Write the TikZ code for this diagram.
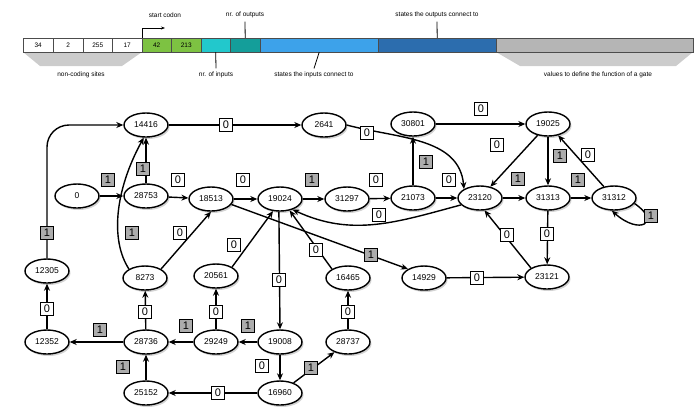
\documentclass[tikz,border=0pt]{standalone}
\usepackage{fontspec}
\setmainfont{Liberation Sans}
\usetikzlibrary{shadows,arrows.meta,shapes.geometric}
\definecolor{cg}{HTML}{7DC242}
\definecolor{cc}{HTML}{22C8CC}
\definecolor{ct}{HTML}{149E9A}
\definecolor{cb}{HTML}{3DA2EA}
\definecolor{cd}{HTML}{2C6DAE}
\definecolor{cgr}{HTML}{B5B5B5}
\begin{document}
\begin{tikzpicture}[x=1pt,y=-1pt,
 st/.style={ellipse,draw,line width=1.4pt,fill=white,minimum width=44pt,minimum height=24pt,inner sep=0pt,font=\fontsize{8.5}{9}\selectfont,drop shadow={opacity=0.35,shadow xshift=1.5pt,shadow yshift=-2pt}},
 e/.style={line width=1.4pt,-{Stealth[length=7pt,width=6pt]}},
 lz/.style={draw,fill=white,inner sep=1pt,minimum width=13pt,minimum height=13pt,font=\fontsize{11}{11}\selectfont},
 lo/.style={lz,fill=gray!65},
 cell/.style={draw=gray!60!black,line width=0.4pt,minimum height=14pt,inner sep=0pt,anchor=west,font=\fontsize{6.5}{7}\selectfont},
 lab/.style={font=\fontsize{6.5}{7}\selectfont}]
\useasboundingbox (0,0) rectangle (700,416);
% top bar
\fill[gray!40] (23,52) -- (142,52) -- (122,66) -- (40,66) -- cycle;
\fill[gray!40] (496,52) -- (693,52) -- (676,66) -- (520,66) -- cycle;
\node[cell,minimum width=30pt,fill=white] (c1) at (23,45) {34};
\node[cell,minimum width=30pt,fill=white] (c2) at (53,45) {2};
\node[cell,minimum width=29pt,fill=white] (c3) at (83,45) {255};
\node[cell,minimum width=30pt,fill=white] (c4) at (112,45) {17};
\node[cell,minimum width=29pt,fill=cg] (c5) at (142,45) {42};
\node[cell,minimum width=30pt,fill=cg] (c6) at (171,45) {213};
\node[cell,minimum width=29pt,fill=cc] (c7) at (201,45) {};
\node[cell,minimum width=30pt,fill=ct] (c8) at (230,45) {};
\node[cell,minimum width=118pt,fill=cb] (c9) at (260,45) {};
\node[cell,minimum width=118pt,fill=cd] (c10) at (378,45) {};
\node[cell,minimum width=197pt,fill=cgr] (c11) at (496,45) {};
\node[lab] (tsc) at (165,15) {start codon};
\node[lab] (tno) at (245,15) {nr. of outputs};
\node[lab] (tso) at (437,15) {states the outputs connect to};
\node[lab] (tnc) at (81,75) {non-coding sites};
\node[lab] (tni) at (216,75) {nr. of inputs};
\node[lab] (tsi) at (314,75) {states the inputs connect to};
\node[lab] (tvf) at (598,75) {values to define the function of a gate};
\coordinate (sca) at (165,28);
\draw[line width=0.8pt,-{Stealth[length=4pt]}] (c5.north west) |- (sca);
\draw[line width=0.8pt] (c8.north) -- (tno.south);
\draw[line width=0.8pt] (c10.north) -- (tso.south);
\draw[line width=0.8pt] (c7.south) -- (tni.north);
\draw[line width=0.8pt] (c9.south) -- (tsi.north);
% nodes
\node[st] (a14416) at (146,125) {14416};
\node[st] (a2641) at (324,125) {2641};
\node[st] (a30801) at (413,124) {30801};
\node[st] (a19025) at (548,124) {19025};
\node[st] (a0) at (77,196) {0};
\node[st] (a28753) at (146,196) {28753};
\node[st] (a18513) at (211,199) {18513};
\node[st] (a19024) at (280,199) {19024};
\node[st] (a31297) at (347,199) {31297};
\node[st] (a21073) at (413,198) {21073};
\node[st] (a23120) at (480,198) {23120};
\node[st] (a31313) at (548,198) {31313};
\node[st] (a31312) at (614,198) {31312};
\node[st] (a14929) at (424,278) {14929};
\node[st] (a23121) at (547,277) {23121};
\node[st] (a12305) at (47,271) {12305};
\node[st] (a8273) at (145,278) {8273};
\node[st] (a20561) at (216,276) {20561};
\node[st] (a16465) at (348,278) {16465};
\node[st] (a12352) at (47,342) {12352};
\node[st] (a28736) at (146,342) {28736};
\node[st] (a29249) at (216,342) {29249};
\node[st] (a19008) at (280,342) {19008};
\node[st] (a28737) at (348,342) {28737};
\node[st] (a25152) at (146,393) {25152};
\node[st] (a16960) at (280,393) {16960};
% edges
\draw[e,rounded corners=22pt] (a12305.north) |- (a14416.west);
\draw[e] (a14416) -- (a2641);
\draw[e] (a2641.east) to[out=-15,in=95] (a23120.north west);
\draw[e] (a30801) -- (a19025);
\draw[e] (a19025) -- (a23120);
\draw[e] (a19025) -- (a31313);
\draw[e] (a31312) -- (a19025);
\draw[e] (a0) -- (a28753);
\draw[e] (a28753) -- (a14416);
\draw[e] (a28753) -- (a18513);
\draw[e] (a18513) -- (a19024);
\draw[e] (a19024) -- (a31297);
\draw[e] (a31297) -- (a21073);
\draw[e] (a21073) -- (a30801);
\draw[e] (a21073) -- (a23120);
\draw[e] (a23120) -- (a31313);
\draw[e] (a31313) -- (a31312);
\draw[e] (a31312.-15) .. controls (662,222) and (640,236) .. (a31312.-100);
\draw[e] (a23120.200) to[out=195,in=-25] (a19024.-40);
\draw[e] (a18513.-15) -- (a14929.north west);
\draw[e] (a8273.north west) .. controls (110,240) and (115,190) .. (a14416.-100);
\draw[e] (a8273.north east) -- (a18513.south);
\draw[e] (a20561.north east) -- (a19024.-120);
\draw[e] (a16465.north west) -- (a19024.-50);
\draw[e] (a19024.-95) -- (a19008.north);
\draw[e] (a14929) -- (a23121);
\draw[e] (a23121.north west) -- (a23120.-70);
\draw[e] (a31313) -- (a23121);
\draw[e] (a12352) -- (a12305);
\draw[e] (a28736) -- (a8273);
\draw[e] (a28736) -- (a12352);
\draw[e] (a29249) -- (a28736);
\draw[e] (a29249) -- (a20561);
\draw[e] (a19008) -- (a29249);
\draw[e] (a19008) -- (a16960);
\draw[e] (a16960) -- (a28737);
\draw[e] (a28737) -- (a16465);
\draw[e] (a16960) -- (a25152);
\draw[e] (a25152) -- (a28736);
% labels
\node[lo] (l1) at (47,233) {1};
\node[lz] (l2) at (226,125) {0};
\node[lz] (l3) at (367,133) {0};
\node[lz] (l4) at (481,109) {0};
\node[lz] (l5) at (497,145) {0};
\node[lo] (l6) at (560,156) {1};
\node[lz] (l7) at (588,155) {0};
\node[lo] (l8) at (108,180) {1};
\node[lo] (l9) at (143,169) {1};
\node[lz] (l10) at (178,180) {0};
\node[lz] (l11) at (243,180) {0};
\node[lo] (l12) at (312,180) {1};
\node[lz] (l13) at (376,180) {0};
\node[lo] (l14) at (426,162) {1};
\node[lz] (l15) at (449,180) {0};
\node[lo] (l16) at (518,179) {1};
\node[lo] (l17) at (578,180) {1};
\node[lo] (l18) at (651,216) {1};
\node[lz] (l19) at (379,215) {0};
\node[lo] (l20) at (371,255) {1};
\node[lo] (l21) at (132,233) {1};
\node[lz] (l22) at (180,233) {0};
\node[lz] (l23) at (234,245) {0};
\node[lz] (l24) at (316,250) {0};
\node[lz] (l25) at (279,280) {0};
\node[lz] (l26) at (477,278) {0};
\node[lz] (l27) at (507,235) {0};
\node[lz] (l28) at (547,234) {0};
\node[lz] (l29) at (47,309) {0};
\node[lz] (l30) at (145,312) {0};
\node[lo] (l31) at (100,330) {1};
\node[lo] (l32) at (186,326) {1};
\node[lz] (l33) at (216,312) {0};
\node[lo] (l34) at (248,326) {1};
\node[lz] (l35) at (262,366) {0};
\node[lo] (l36) at (311,368) {1};
\node[lz] (l37) at (348,312) {0};
\node[lz] (l38) at (218,393) {0};
\node[lo] (l39) at (123,367) {1};
\end{tikzpicture}
\end{document}
